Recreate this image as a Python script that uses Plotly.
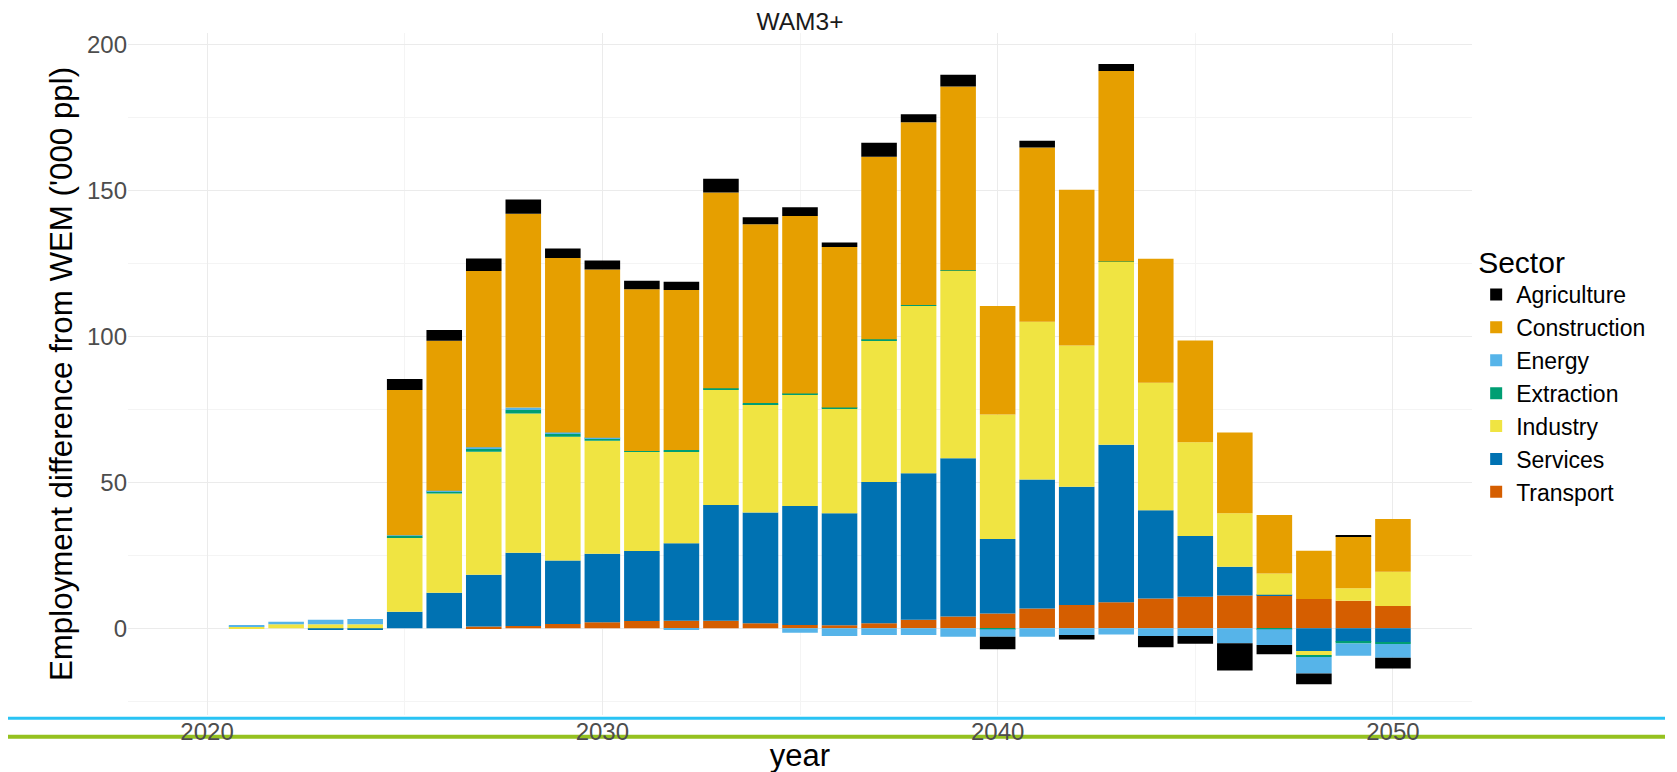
import plotly.graph_objects as go

years = list(range(2021, 2051))

transport = [0, 0, 0, 0, 0, 0, 0.6, 0.8, 1.5, 2.1, 2.5, 2.6, 2.6, 1.7, 1.1, 1.0, 1.7, 2.9, 4.0, 5.1,
             6.8, 8.0, 8.9, 10.2, 10.8, 11.2, 11.2, 10.0, 9.4, 7.6]
services = [0, 0, -0.3, -0.3, 5.7, 12.2, 17.7, 25.1, 21.7, 23.4, 24.0, 26.5, 39.6, 38.0, 40.8, 38.4, 48.4, 50.2, 54.2, 25.5,
            44.2, 40.5, 54.0, 30.2, 20.8, 9.9, 0.3, -7.8, -4.6, -4.8]
industry = [0.6, 1.4, 1.4, 1.4, 25.5, 34.0, 42.2, 47.7, 42.4, 38.7, 33.9, 31.4, 39.6, 37.1, 38.2, 35.8, 48.6, 57.4, 64.3, 42.6,
            54.0, 48.4, 62.6, 43.7, 32.1, 18.3, 7.3, -1.4, 4.3, 11.8]
extraction = [0, 0, 0, 0, 0.5, 0.7, 1.1, 1.2, 1.0, 0.9, 0.3, 0.6, 0.4, 0.4, 0.3, 0.4, 0.3, 0.2, 0.1, -0.3,
              0, 0, 0.1, 0, 0, 0, -0.3, -0.6, -0.6, -0.6]
energy = [0.5, 0.8, 1.5, 1.8, 0.2, 0.2, 0.4, 0.8, 0.5, 0.2, 0, -0.4, 0, 0, -1.5, -2.6, -2.3, -2.3, -2.9, -2.6,
          -2.9, -2.3, -2.1, -2.6, -2.6, -5.1, -5.4, -5.7, -4.2, -4.7]
construction = [0, 0, 0, 0, 49.7, 51.4, 60.4, 66.4, 59.7, 57.6, 55.4, 54.8, 67.1, 61.2, 60.8, 55.0, 62.5, 62.6, 63.0, 37.2,
                59.7, 53.3, 65.3, 42.5, 34.9, 27.7, 20.0, 16.6, 17.9, 18.0]
agriculture = [0, 0, 0, 0, 3.8, 3.7, 4.3, 4.9, 3.3, 3.1, 2.9, 2.8, 4.7, 2.4, 3.0, 1.5, 4.8, 2.8, 4.0, -4.3,
               2.3, -1.5, 2.4, -3.9, -2.7, -9.4, -3.2, -3.7, 0.2, -3.7]

# stacking order: first trace sits next to zero
series = [
    ("Transport", transport, "#D55E00"),
    ("Services", services, "#0072B2"),
    ("Industry", industry, "#F0E442"),
    ("Extraction", extraction, "#009E73"),
    ("Energy", energy, "#56B4E9"),
    ("Construction", construction, "#E69F00"),
    ("Agriculture", agriculture, "#000000"),
]

FONT = "Liberation Sans, Arial, sans-serif"

fig = go.Figure()
for name, vals, col in series:
    fig.add_trace(go.Bar(x=years, y=vals, name=name, width=0.9,
                         marker=dict(color=col, line=dict(width=0))))

fig.update_layout(
    width=1677, height=772,
    barmode="relative",
    paper_bgcolor="white", plot_bgcolor="white",
    margin=dict(l=120, r=213, t=25, b=65, autoexpand=False),
    font=dict(family=FONT, color="#000000"),
    title=dict(text="WAM3+", x=0.5, xref="paper", xanchor="center",
               y=(772 - 13) / 772, yref="container", yanchor="middle",
               font=dict(size=24.5, color="#1a1a1a", family=FONT)),
    legend=dict(title=dict(text="Sector", font=dict(size=30, color="#000000")),
                font=dict(size=23, color="#000000"),
                traceorder="reversed", x=1.0031, xanchor="left",
                y=0.5, yanchor="middle", bgcolor="rgba(0,0,0,0)",
                itemsizing="constant"),
    showlegend=True,
)

fig.update_xaxes(
    range=[2018.0, 2052.0],
    tickvals=[2020, 2030, 2040, 2050],
    ticktext=["2020", "2030", "2040", "2050"],
    tickfont=dict(size=24, color="#4D4D4D"),
    showgrid=True, gridcolor="#EBEBEB", gridwidth=1,
    minor=dict(dtick=5, tick0=2020, showgrid=True, gridcolor="#F4F4F4", gridwidth=1),
    zeroline=False, showline=False, ticks="",
    title=dict(text="year", font=dict(size=31, color="#000000"), standoff=0),
)
fig.update_yaxes(
    range=[-29.7, 203.9],
    tickvals=[0, 50, 100, 150, 200],
    tickfont=dict(size=24, color="#4D4D4D"),
    showgrid=True, gridcolor="#EBEBEB", gridwidth=1,
    minor=dict(dtick=25, tick0=0, showgrid=True, gridcolor="#F4F4F4", gridwidth=1),
    zeroline=False, showline=False, ticks="",
    title=dict(text="Employment difference from WEM ('000 ppl)",
               font=dict(size=31.3, color="#000000"), standoff=4),
)

# decorative horizontal rules below the panel
fig.add_shape(type="line", xref="paper", yref="paper",
              x0=(0 - 120) / 1344, x1=(1657 - 120) / 1344,
              y0=(707 - 710.3) / 682, y1=(707 - 710.3) / 682,
              line=dict(color="#29C3F4", width=3), layer="below")
fig.add_shape(type="line", xref="paper", yref="paper",
              x0=(0 - 120) / 1344, x1=(1657 - 120) / 1344,
              y0=(707 - 728.7) / 682, y1=(707 - 728.7) / 682,
              line=dict(color="#95C11F", width=4), layer="below")

fig.write_html("out.html")
